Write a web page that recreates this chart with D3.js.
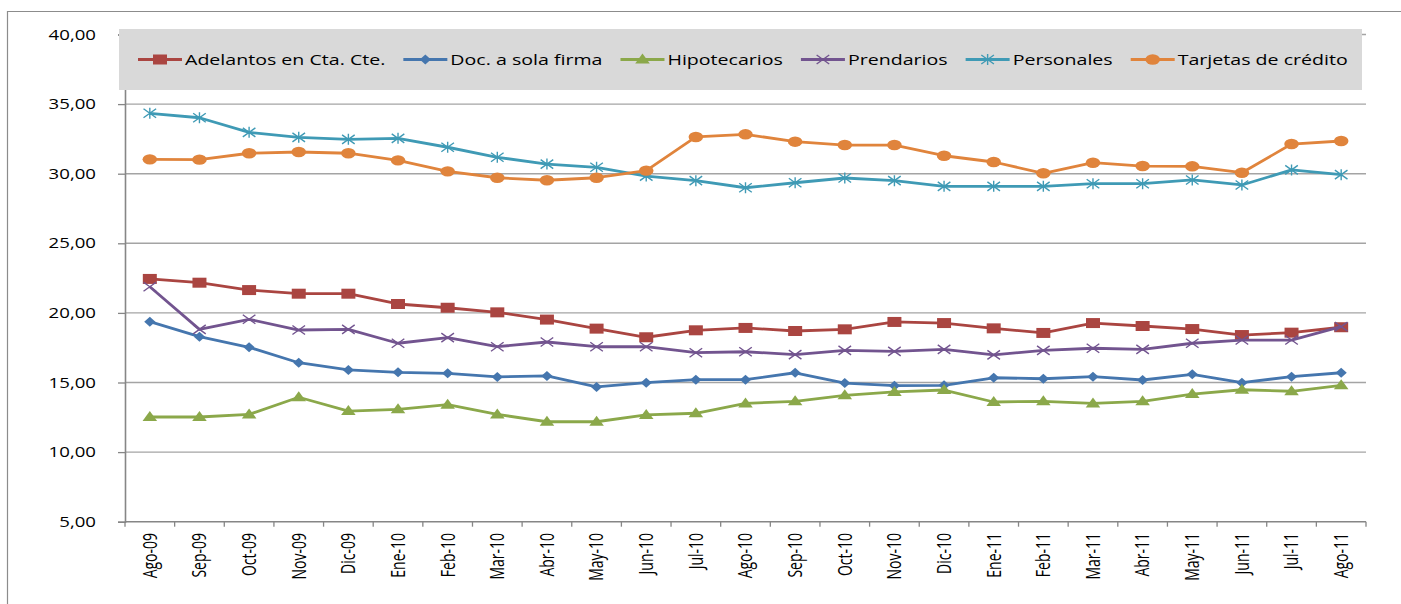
<!DOCTYPE html>
<html>
<head>
<meta charset="utf-8">
<script src="https://cdn.jsdelivr.net/npm/d3@7"></script>
<style>
  html, body { margin: 0; padding: 0; background: #fff; }
  svg { display: block; }
  text { font-family: "Open Sans", "DejaVu Sans", sans-serif; fill: #000; }
</style>
</head>
<body>
<svg id="chart" width="1401" height="604"></svg>
<script>
// Monthly rates by loan type, Aug-2009 to Aug-2011
const months = ["Ago-09","Sep-09","Oct-09","Nov-09","Dic-09","Ene-10","Feb-10","Mar-10","Abr-10","May-10",
  "Jun-10","Jul-10","Ago-10","Sep-10","Oct-10","Nov-10","Dic-10","Ene-11","Feb-11","Mar-11","Abr-11",
  "May-11","Jun-11","Jul-11","Ago-11"];

const adelantos = [22.44,22.17,21.64,21.38,21.38,20.64,20.37,20.04,19.52,18.87,18.25,18.75,18.92,18.70,18.82,
  19.35,19.27,18.89,18.56,19.27,19.06,18.84,18.41,18.58,18.97];
const docSolaFirma = [19.37,18.29,17.53,16.42,15.90,15.73,15.66,15.40,15.47,14.68,14.99,15.20,15.20,15.70,14.96,
  14.77,14.80,15.34,15.27,15.42,15.18,15.59,14.99,15.42,15.70];
const hipotecarios = [12.52,12.52,12.71,13.94,12.95,13.07,13.41,12.71,12.18,12.18,12.67,12.79,13.50,13.65,14.08,
  14.32,14.46,13.60,13.65,13.50,13.65,14.17,14.48,14.37,14.80];
const prendarios = [21.88,18.82,19.54,18.77,18.82,17.82,18.22,17.57,17.91,17.57,17.57,17.14,17.21,17.00,17.31,
  17.24,17.38,16.98,17.31,17.46,17.38,17.82,18.05,18.05,19.01];
const personales = [34.34,34.02,32.97,32.61,32.47,32.54,31.90,31.18,30.69,30.46,29.83,29.50,28.99,29.35,29.69,
  29.50,29.09,29.09,29.09,29.28,29.28,29.55,29.19,30.27,29.93];
const tarjetas = [31.03,31.01,31.47,31.56,31.47,30.96,30.17,29.71,29.53,29.71,30.22,32.64,32.83,32.30,32.06,
  32.06,31.29,30.84,30.03,30.79,30.55,30.53,30.07,32.13,32.35];

const seriesNames = ["Adelantos en Cta. Cte.","Doc. a sola firma","Hipotecarios","Prendarios","Personales","Tarjetas de crédito"];
const yTicks = [5,10,15,20,25,30,35,40];

const series = [
  { name: seriesNames[0], values: adelantos,    color: "#AA4541", marker: "square" },
  { name: seriesNames[1], values: docSolaFirma, color: "#4576AE", marker: "diamond" },
  { name: seriesNames[2], values: hipotecarios, color: "#8BA84A", marker: "triangle" },
  { name: seriesNames[3], values: prendarios,   color: "#72548F", marker: "cross" },
  { name: seriesNames[4], values: personales,   color: "#3F9AB5", marker: "star" },
  { name: seriesNames[5], values: tarjetas,     color: "#E0843C", marker: "circle" }
];

// Horizontal stretch applied to glyphs and markers (wide chart rendering)
const SX = 1.4;

const svg = d3.select("#chart");
const plot = { left: 125, right: 1366, top: 34.5, bottom: 521.7 };

const x = d3.scaleBand().domain(months).range([plot.left, plot.right]);
const y = d3.scaleLinear().domain([5, 40]).range([plot.bottom, plot.top]);
const fmt = v => d3.format(".2f")(v).replace(".", ",");

// Outer frame (top and left edges visible)
svg.append("line").attr("x1", 7).attr("x2", 1401).attr("y1", 11.5).attr("y2", 11.5)
  .attr("stroke", "#8c8c8c").attr("stroke-width", 1.2);
svg.append("line").attr("x1", 7.5).attr("x2", 7.5).attr("y1", 11).attr("y2", 604)
  .attr("stroke", "#8c8c8c").attr("stroke-width", 1.2);

// Gridlines
svg.append("g").selectAll("line").data(yTicks.filter(t => t > 5)).join("line")
  .attr("x1", plot.left).attr("x2", plot.right)
  .attr("y1", d => y(d)).attr("y2", d => y(d))
  .attr("stroke", "#a4a4a4").attr("stroke-width", 1.4);

// Y axis
const yAxis = svg.append("g").attr("transform", `translate(${plot.left},0)`)
  .call(d3.axisLeft(y).tickValues(yTicks).tickSize(7).tickFormat(""));
yAxis.select(".domain").attr("stroke", "#868686").attr("stroke-width", 1.6);
yAxis.selectAll(".tick line").attr("stroke", "#868686").attr("stroke-width", 1.3);

svg.append("g").selectAll("text").data(yTicks).join("text")
  .attr("transform", d => `translate(96,${y(d)}) scale(1.33,1)`)
  .attr("text-anchor", "end").attr("dy", "0.36em")
  .style("font-size", "14px")
  .text(fmt);

// X axis with ticks between categories
const bounds = months.map((m, i) => plot.left + i * x.step()).concat([plot.right]);
svg.append("line").attr("x1", plot.left).attr("x2", plot.right)
  .attr("y1", plot.bottom).attr("y2", plot.bottom)
  .attr("stroke", "#868686").attr("stroke-width", 1.6);
svg.append("g").selectAll("line").data(bounds).join("line")
  .attr("x1", d => d).attr("x2", d => d)
  .attr("y1", plot.bottom).attr("y2", plot.bottom + 5)
  .attr("stroke", "#868686").attr("stroke-width", 1.3);

svg.append("g").selectAll("text").data(months).join("text")
  .attr("transform", d => `translate(${x(d) + x.bandwidth() / 2},533) scale(${SX},1) rotate(-90)`)
  .attr("text-anchor", "end").attr("dy", "0.35em")
  .style("font-size", "14px")
  .text(d => d);

// Marker shapes (drawn unstretched, then widened by SX)
function markerPath(kind) {
  switch (kind) {
    case "square":   return "M-5,-5H5V5H-5Z";
    case "diamond":  return "M0,-5L4,0L0,5L-4,0Z";
    case "triangle": return "M0,-6L5.2,4L-5.2,4Z";
    case "cross":    return "M-4.5,-4.5L4.5,4.5M-4.5,4.5L4.5,-4.5";
    case "star":     return "M-4.5,-4.5L4.5,4.5M-4.5,4.5L4.5,-4.5M0,-5.5V5.5";
    case "circle":   return "M-5.2,0A5.2,5.2 0 1,0 5.2,0A5.2,5.2 0 1,0 -5.2,0Z";
  }
}
const stroked = k => k === "cross" || k === "star";

function drawMarker(sel, s) {
  sel.append("path")
    .attr("d", markerPath(s.marker))
    .attr("fill", stroked(s.marker) ? "none" : s.color)
    .attr("stroke", s.color)
    .attr("stroke-width", stroked(s.marker) ? 1.4 : 0)
    .attr("vector-effect", "non-scaling-stroke");
}

// Lines and markers
const line = d3.line()
  .x((d, i) => x(months[i]) + x.bandwidth() / 2)
  .y(d => y(d));

const seriesG = svg.append("g");
series.forEach(s => {
  const g = seriesG.append("g");
  g.append("path").datum(s.values)
    .attr("d", line)
    .attr("fill", "none")
    .attr("stroke", s.color)
    .attr("stroke-width", 2.8)
    .attr("stroke-linejoin", "round");
  g.selectAll("g.m").data(s.values).join("g").attr("class", "m")
    .attr("transform", (d, i) => `translate(${x(months[i]) + x.bandwidth() / 2},${y(d)}) scale(${SX},1)`)
    .each(function () { drawMarker(d3.select(this), s); });
});

// Legend box on top of the plot
const legend = svg.append("g");
legend.append("rect")
  .attr("x", 119).attr("y", 29).attr("width", 1243).attr("height", 61)
  .attr("fill", "#d9d9d9");

let cursor = 138;
const legendY = 59.5;
series.forEach(s => {
  const item = legend.append("g");
  item.append("line")
    .attr("x1", cursor).attr("x2", cursor + 44)
    .attr("y1", legendY).attr("y2", legendY)
    .attr("stroke", s.color).attr("stroke-width", 2.8);
  const m = item.append("g").attr("transform", `translate(${cursor + 22},${legendY}) scale(${SX},1)`);
  drawMarker(m, s);
  const t = item.append("text")
    .attr("transform", `translate(${cursor + 47},${legendY}) scale(${SX},1)`)
    .attr("dy", "0.36em")
    .style("font-size", "14px")
    .text(s.name);
  cursor += 47 + t.node().getComputedTextLength() * SX + 18;
});
</script>
</body>
</html>
